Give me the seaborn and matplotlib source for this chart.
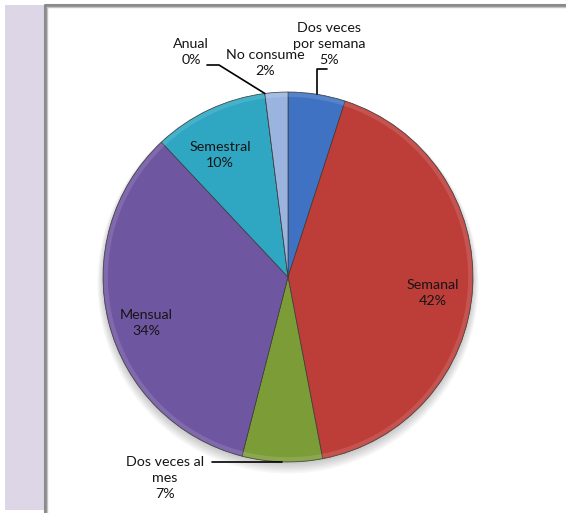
import numpy as np
import matplotlib
matplotlib.use("Agg")
import matplotlib.pyplot as plt
from matplotlib.patches import Rectangle, Circle
from matplotlib.lines import Line2D
import seaborn as sns

# Frecuencia de consumo (porcentaje de encuestados)
categories = ["Dos veces\npor semana", "Semanal", "Dos veces al\nmes", "Mensual",
              "Semestral", "Anual", "No consume"]
percentages = [5, 42, 7, 34, 10, 0, 2]

sns.set_theme(style="white")
plt.rcParams["font.family"] = ["Lato", "DejaVu Sans"]

colors = ["#3f72c2", "#bd3d39", "#7b9c36", "#6f56a1", "#2fa7c3", "#f08a3c", "#9bb3df"]

W, H = 566, 513
fig = plt.figure(figsize=(W / 100, H / 100), dpi=100)
fig.patch.set_facecolor("white")

# side strip and frame
fig.patches.append(Rectangle((5 / W, 3 / H), 39 / W, (H - 8) / H,
                             transform=fig.transFigure, facecolor="#ddd6e7",
                             edgecolor="none", zorder=0))
for lw, col, off in [(2.2, "#8a8a8a", 0), (1.0, "#c4c4c4", 1.6)]:
    fig.lines.append(Line2D([(45 + off) / W, (45 + off) / W], [0, 1 - (5 + off) / H],
                            transform=fig.transFigure, color=col, lw=lw))
    fig.lines.append(Line2D([(45 + off) / W, 1], [1 - (5 + off) / H, 1 - (5 + off) / H],
                            transform=fig.transFigure, color=col, lw=lw))

# pie area: centre (288, 277), radius 185 px
cx, cy, R = 288, 277, 185
ax = fig.add_axes([(cx - R) / W, 1 - (cy + R) / H, 2 * R / W, 2 * R / H])

# soft shadow under the pie
for k in range(6):
    ax.add_patch(Circle((0.0, -0.012 - 0.004 * k), 1.0 + 0.006 * k,
                        facecolor="#000000", alpha=0.035, edgecolor="none",
                        zorder=0, clip_on=False))

wedges, _ = ax.pie(percentages, colors=colors, startangle=90, counterclock=False,
                   radius=1.0, wedgeprops=dict(edgecolor="#3a3a3a", linewidth=0.5),
                   normalize=True)
for w in wedges:
    w.set_zorder(2)
    w.set_clip_on(False)

ax.set_xlim(-1, 1)
ax.set_ylim(-1, 1)
ax.set_aspect("equal")
ax.axis("off")

# bevel highlight along outer rim
ax.add_patch(Circle((0, 0), 0.985, facecolor="none", edgecolor="white",
                    alpha=0.12, linewidth=3, zorder=3, clip_on=False))


def px(x, y):
    return (x - cx) / R, (cy - y) / R


def edge_point(i):
    start = 90 - 3.6 * sum(percentages[:i])
    mid = np.deg2rad(start - 1.8 * percentages[i])
    return np.cos(mid), np.sin(mid)


# label anchor centres (pixels)
label_pos = [(329, 44), (433, 293), (165, 478), (146, 323),
             (220, 155), (191, 52), (265, 63)]

for name, pct, pos in zip(categories, percentages, label_pos):
    x, y = px(*pos)
    ax.text(x, y, f"{name}\n{pct}%", ha="center", va="center", fontsize=10.3,
            color="#151515", linespacing=1.45, zorder=5, clip_on=False)

# leader lines
lk = dict(color="black", lw=1.2, zorder=4, clip_on=False)
# Dos veces por semana
ex, ey = edge_point(0)
a = px(327, 69)
ax.plot([a[0], ex, ex], [a[1], a[1], ey], **lk)
# Anual
ex, ey = edge_point(5)
a, b = px(207, 65), px(219, 65)
ax.plot([a[0], b[0], ex], [a[1], b[1], ey], **lk)
# Dos veces al mes
ex, ey = edge_point(2)
a = px(212, 462)
ax.plot([a[0], ex], [a[1], a[1]], **lk)

fig.savefig("out.png", dpi=100)
